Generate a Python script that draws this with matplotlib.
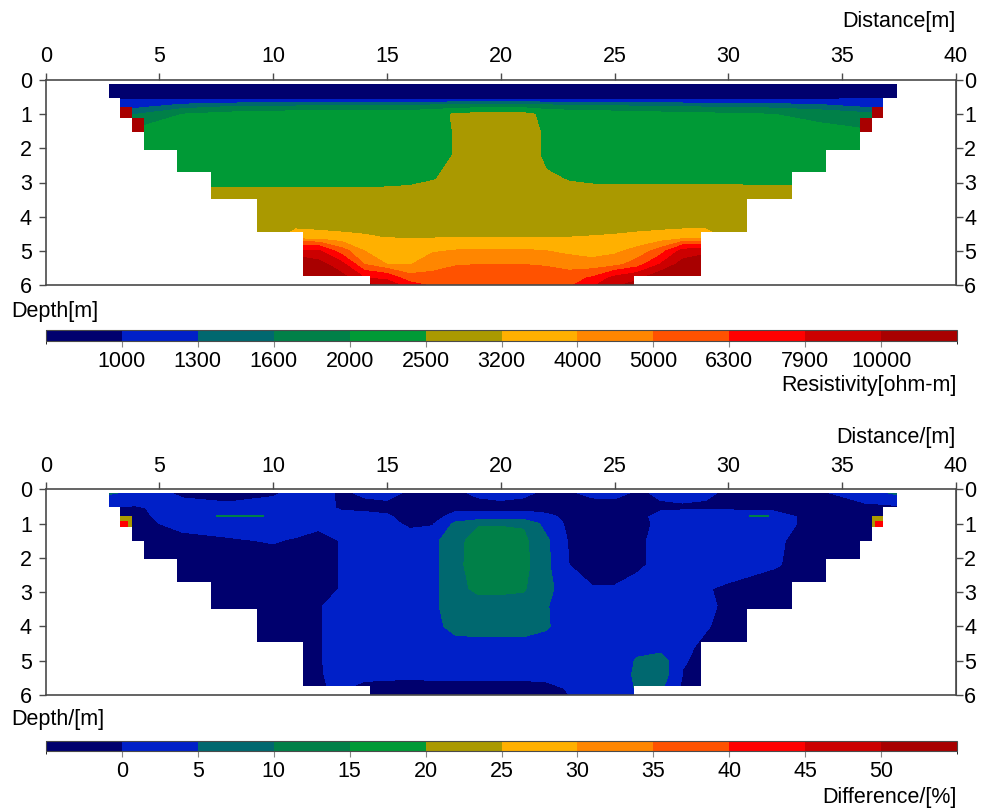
import numpy as np
import matplotlib
matplotlib.use("Agg")
import matplotlib.pyplot as plt
from matplotlib.colors import ListedColormap, BoundaryNorm
from matplotlib.patches import Polygon, Rectangle
from matplotlib.cm import ScalarMappable

plt.rcParams['font.family'] = ['Liberation Sans', 'DejaVu Sans']

# model mesh (staircase outline of the pseudo-section)
layer_top = [0.12, 0.52, 1.11, 1.51, 2.04, 2.69, 3.49, 4.46, 5.75]
layer_bot = [0.52, 1.11, 1.51, 2.04, 2.69, 3.49, 4.46, 5.75, 6.0]
layer_left = [2.77, 3.27, 3.8, 4.3, 5.78, 7.26, 9.27, 11.3, 14.26]
layer_right = [37.4, 36.8, 36.3, 35.8, 34.3, 32.8, 30.8, 28.8, 25.85]

# grid nodes for the contoured values
x_nodes = [2, 4, 6, 8, 10, 11, 12, 13, 14, 15, 16, 17, 18, 19, 20,
           21, 22, 23, 24, 25, 26, 27, 28, 29, 30, 32, 34, 36, 38]
depth_nodes = [0.1, 0.55, 0.8, 1.0, 1.5, 2.2, 2.9, 3.4, 4.0, 4.6, 5.0, 5.4, 5.8, 6.0]

# resistivity model [ohm-m], one row per depth node
rho = [
    [700, 700, 700, 700, 700, 700, 700, 700, 700, 700, 700, 700, 700, 700, 700,
     700, 700, 700, 700, 700, 700, 700, 700, 700, 700, 700, 700, 700, 700],
    [990, 990, 960, 950, 950, 950, 950, 950, 950, 950, 950, 950, 950, 950, 950,
     950, 955, 960, 960, 960, 960, 960, 960, 960, 960, 970, 980, 1000, 1000],
    [1200, 1250, 1500, 1650, 1700, 1720, 1750, 1750, 1750, 1780, 1800, 1850, 1900, 1950, 1950,
     1950, 1850, 1820, 1800, 1750, 1700, 1680, 1650, 1620, 1600, 1550, 1450, 1300, 1200],
    [1500, 1600, 2000, 2150, 2250, 2250, 2250, 2250, 2250, 2250, 2250, 2300, 2560, 2650, 2700,
     2650, 2350, 2250, 2250, 2200, 2150, 2150, 2100, 2100, 2050, 2000, 1850, 1700, 1500],
    [2000, 2100, 2250, 2300, 2300, 2300, 2300, 2300, 2300, 2300, 2300, 2300, 2530, 2900, 2900,
     2900, 2350, 2300, 2300, 2300, 2300, 2300, 2300, 2300, 2300, 2250, 2150, 2050, 2000],
    [2100, 2200, 2300, 2300, 2300, 2300, 2300, 2300, 2300, 2300, 2300, 2300, 2530, 2900, 2900,
     2900, 2350, 2300, 2300, 2300, 2300, 2300, 2300, 2300, 2300, 2300, 2250, 2150, 2100],
    [2300, 2300, 2300, 2300, 2300, 2300, 2300, 2300, 2300, 2330, 2380, 2480, 2600, 2900, 2900,
     2900, 2600, 2470, 2420, 2400, 2400, 2400, 2400, 2400, 2400, 2380, 2350, 2300, 2300],
    [2700, 2700, 2700, 2700, 2700, 2700, 2700, 2700, 2700, 2700, 2700, 2700, 2750, 2900, 2900,
     2900, 2750, 2700, 2700, 2700, 2700, 2700, 2700, 2700, 2700, 2700, 2700, 2700, 2700],
    [2900, 2900, 2900, 2900, 2900, 2900, 2900, 2900, 2900, 2900, 2900, 2900, 2900, 2900, 2900,
     2900, 2900, 2900, 2900, 2900, 2900, 2900, 2900, 2900, 2900, 2900, 2900, 2900, 2900],
    [3000, 3000, 3000, 3000, 3100, 3400, 3350, 3300, 3250, 3180, 3150, 3150, 3180, 3180, 3180,
     3180, 3180, 3200, 3220, 3250, 3300, 3350, 3400, 3400, 3100, 3000, 3000, 3000, 3000],
    [3200, 3200, 3200, 3200, 8000, 8000, 8000, 5500, 4000, 3700, 3600, 3900, 4050, 4100, 4100,
     4100, 4000, 3800, 3700, 3800, 4300, 5500, 8500, 9000, 9000, 3200, 3200, 3200, 3200],
    [3500, 3500, 3500, 3500, 13000, 13000, 11000, 8500, 5000, 4000, 3950, 4600, 4900, 5000, 5000,
     5000, 4900, 4500, 4300, 4600, 5600, 8000, 11000, 13000, 13000, 3500, 3500, 3500, 3500],
    [4000, 4000, 4000, 4000, 15000, 15000, 14000, 11000, 8000, 7500, 5500, 5400, 5800, 5700, 5600,
     5600, 5600, 5700, 6500, 8500, 9500, 12000, 14000, 15000, 15000, 4000, 4000, 4000, 4000],
    [4000, 4000, 4000, 4000, 15000, 15000, 15000, 13000, 11000, 9000, 7000, 6000, 6000, 5800, 5800,
     5800, 5800, 6000, 7500, 9500, 11000, 14000, 15000, 15000, 15000, 4000, 4000, 4000, 4000],
]

# difference between models [%]
diff = [
    [8, 3, -1, -1.5, -0.5, 1, 1, -0.5, 0.5, 1, -0.5, -0.5, -0.5, 0.5, 1,
     0.5, -0.5, -0.5, 1, 1, -0.5, 0.5, 1, 0.5, -0.5, -1, -0.5, 2, 8],
    [-1, -0.5, 2, 1, 1.5, 2, 1.5, -0.5, -1, -1, -1.5, -1.5, -1, -1, -1,
     -1, -1.5, -2, -2, -1.5, -1, -0.5, -0.5, -0.5, -0.5, -0.5, -1, -1, -1],
    [-1, -1, 2, 2.5, 2, 2, 2, 1.5, 1.5, 0.5, -1.5, -1.5, 1.5, 1.5, 2,
     2, 1, -1, -2, -2, -1, 1, 2, 2, 2, 1, -1, -1, -1],
    [-1, -1, 1, 2, 2.5, 2, 1, 2, 2.5, 1.5, -1, -0.5, 6, 9.5, 9.5,
     9.5, 3, -1, -2.5, -2.5, -1.5, 1, 2, 2, 2, 1, -1, -1, -1],
    [-1, -1, -1, -0.5, 0.3, -0.5, -1.5, 0.2, 2, 2.5, 2.5, 3.5, 8.5, 12, 12.5,
     11, 6, -0.5, -3, -3, -1, 1.5, 2, 2, 2, 0.5, -1.5, -1.5, -1],
    [-1, -1, -1.5, -2, -2, -2, -1.5, 0.2, 2, 2.5, 2.5, 3.5, 8.5, 12.5, 13,
     11.5, 6, 0, -3, -3, -1, 1.5, 2, 2, 1.5, 0.3, -1.5, -1.5, -1],
    [-1, -1, -1.5, -2, -2, -2, -1.5, 0.2, 2, 2.5, 2.5, 3.5, 8.5, 11, 11,
     10.5, 6, 3, 0.5, 0.5, 2, 2, 1.5, 0.2, -0.5, -1.5, -1.5, -1.5, -1],
    [-1, -1, -1.5, -2, -2, -1.5, -0.3, 1.5, 2.5, 2.5, 2.5, 4, 7.5, 8, 8,
     8, 5.3, 2.5, 2, 1.5, 2, 2, 1.5, 0.5, -0.5, -1.5, -1.5, -1.5, -1],
    [-1, -1, -1.5, -2, -2, -1.5, -0.3, 1.5, 2.5, 2.5, 2.5, 3.5, 6.5, 7, 7,
     7, 5.5, 2.5, 2, 2, 2, 2, 1.2, 0.2, -0.8, -1.5, -1.5, -1.5, -1],
    [-1, -1, -1.5, -2, -2, -1.5, -0.3, 1.5, 2.5, 3, 3, 3, 3, 3, 3,
     3, 3, 3, 3, 2.5, 3.5, 3, 0.5, -0.5, -1, -1.5, -1.5, -1.5, -1],
    [-1, -1, -1.5, -2, -2, -1.5, -0.3, 1.5, 2.5, 2.5, 2.5, 2.5, 2.5, 2.5, 2.5,
     2.5, 2.5, 2.5, 2.5, 2, 5.5, 7.5, 0.3, -1, -1, -1.5, -1.5, -1.5, -1],
    [-1, -1, -1.5, -2, -2, -1.5, -0.3, 1, 1.5, 1.2, 1, 1.2, 1.2, 1.2, 1.2,
     1.2, 1.2, 1.5, 2, 2, 6, 8, -0.2, -1, -1, -1.5, -1.5, -1.5, -1],
    [-1, -1, -1.5, -2, -2, -1.5, -0.3, 0.5, -1.5, -1.5, -2, -1.5, -1.5, -1.5, -1.5,
     -1.5, -1, 0.3, 1.5, 2, 5.5, 6, -1, -1, -1, -1.5, -1.5, -1.5, -1],
    [-1, -1, -1.5, -2, -2, -1.5, -1, -1, -1.5, -1.5, -2, -2, -1.5, -1.5, -1.5,
     -1, -1, 0, 1, 1.5, 3, 3, -1, -1, -1, -1.5, -1.5, -1.5, -1],
]

# edge cells and thin lenses of the model: x0, x1, d0, d1, value
rho_cells = [(3.27, 3.8, 0.8, 1.11, 12000), (3.8, 4.3, 1.11, 1.51, 11000),
             (36.3, 36.8, 0.8, 1.11, 12000), (35.8, 36.3, 1.11, 1.51, 11000)]
diff_cells = [(3.27, 3.8, 0.78, 1.11, 22), (3.27, 3.6, 0.93, 1.11, 42),
              (36.3, 36.8, 0.78, 1.11, 22), (36.45, 36.8, 0.93, 1.11, 42),
              (7.5, 9.6, 0.75, 0.81, 12), (30.9, 31.8, 0.75, 0.80, 12)]

rho_levels = [0, 1000, 1300, 1600, 2000, 2500, 3200, 4000, 5000, 6300, 7900, 10000, 1e6]
rho_ticks = [1000, 1300, 1600, 2000, 2500, 3200, 4000, 5000, 6300, 7900, 10000]
diff_levels = [-100, 0, 5, 10, 15, 20, 25, 30, 35, 40, 45, 50, 1000]
diff_ticks = [0, 5, 10, 15, 20, 25, 30, 35, 40, 45, 50]

colors = ['#00006E', '#0020C8', '#00686F', '#008048', '#009A36', '#AA9900',
          '#FFB000', '#FF8600', '#FF5200', '#FF0000', '#CC0000', '#A80000']

W, H = 983, 808
fig = plt.figure(figsize=(W / 100, H / 100), dpi=100)


def fx(px):
    return px / W


def fy(py):
    return 1 - py / H


outline = [(layer_left[0], layer_top[0])]
for i in range(len(layer_top)):
    outline += [(layer_right[i], layer_top[i]), (layer_right[i], layer_bot[i])]
for i in reversed(range(len(layer_top))):
    outline += [(layer_left[i], layer_bot[i]), (layer_left[i], layer_top[i])]

cmap = ListedColormap(colors)
edge = '#4a4a4a'
fs = 15.5


def section(rect, grid, levels, cells, ticks, cb_rect, xlab, ylab, clab, ylab_y, xlab_y, clab_y):
    ax = fig.add_axes(rect)
    norm = BoundaryNorm(levels, cmap.N)
    cs = ax.contourf(x_nodes, depth_nodes, np.array(grid, dtype=float), levels=levels,
                     cmap=cmap, norm=norm)
    clip = Polygon(outline, closed=True, facecolor='none', edgecolor='none',
                   transform=ax.transData)
    ax.add_patch(clip)
    cs.set_clip_path(clip)
    for x0, x1, d0, d1, v in cells:
        ax.add_patch(Rectangle((x0, d0), x1 - x0, d1 - d0, facecolor=cmap(norm(v)),
                               edgecolor='none', zorder=2))
    ax.set_xlim(0, 40)
    ax.set_ylim(6, 0)
    ax.set_xticks(range(0, 41, 5))
    ax.set_yticks(range(0, 7))
    ax.xaxis.tick_top()
    ax.tick_params(axis='x', direction='out', length=5, width=1, color=edge,
                   labelsize=fs, pad=4)
    ax.tick_params(axis='y', direction='out', length=5, width=1, color=edge,
                   labelsize=fs, pad=5)
    sec = ax.secondary_yaxis('right')
    sec.set_yticks(range(0, 7))
    sec.tick_params(direction='out', length=5, width=1, color=edge, labelsize=fs, pad=1)
    sec.spines['right'].set_color(edge)
    for s in ax.spines.values():
        s.set_color(edge)
        s.set_linewidth(1.2)

    fig.text(fx(956), fy(xlab_y), xlab, ha='right', va='center', fontsize=fs)
    fig.text(fx(11), fy(ylab_y), ylab, ha='left', va='center', fontsize=fs)

    cax = fig.add_axes(cb_rect)
    cb = fig.colorbar(ScalarMappable(norm=norm, cmap=cmap), cax=cax,
                      orientation='horizontal', spacing='uniform', ticks=ticks)
    cb.outline.set_edgecolor(edge)
    cb.outline.set_linewidth(0.8)
    cax.tick_params(direction='out', length=4, width=0.8, color='#888888',
                    labelsize=fs, pad=3)
    fig.text(fx(957), fy(clab_y), clab, ha='right', va='center', fontsize=fs)
    return ax


section([fx(45.7), fy(285), fx(956) - fx(45.7), fy(80) - fy(285)], rho, rho_levels,
        rho_cells, rho_ticks, [fx(46), fy(341), fx(957) - fx(46), fy(330) - fy(341)],
        'Distance[m]', 'Depth[m]', 'Resistivity[ohm-m]', 311, 22, 386)

section([fx(45.7), fy(695), fx(956) - fx(45.7), fy(489.3) - fy(695)], diff, diff_levels,
        diff_cells, diff_ticks, [fx(46), fy(751), fx(957) - fx(46), fy(740.5) - fy(751)],
        'Distance/[m]', 'Depth/[m]', 'Difference/[%]', 720, 437, 797)

fig.savefig('out.png', dpi=100)
